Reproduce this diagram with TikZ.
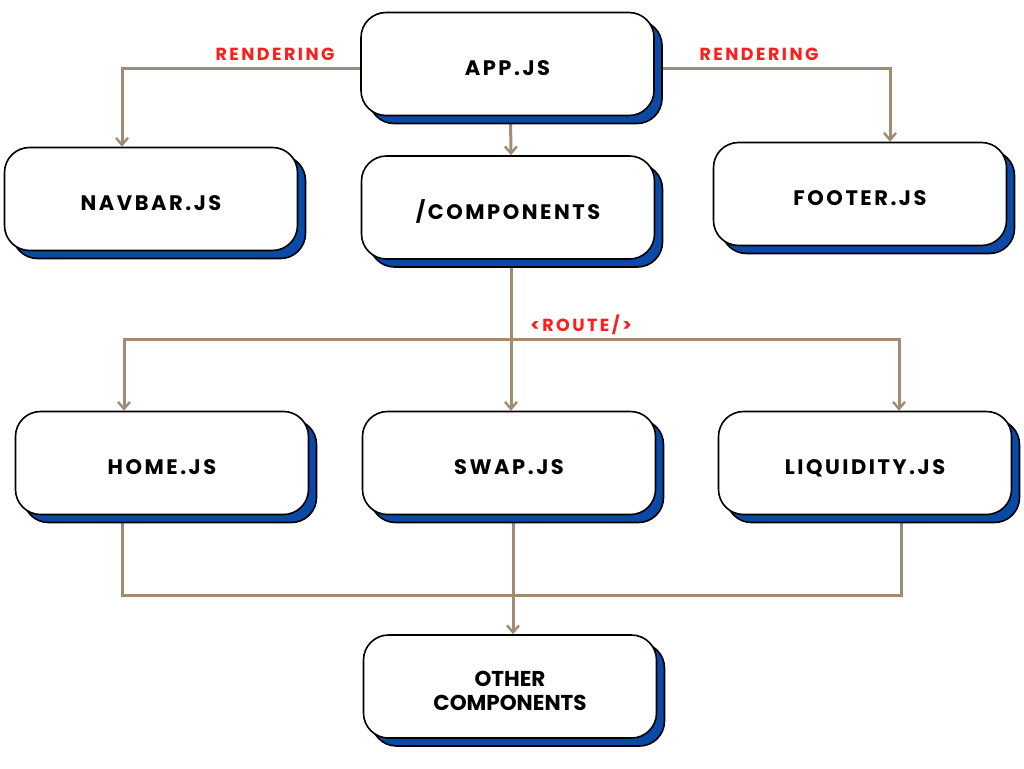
\documentclass[tikz,border=0pt]{standalone}
\usepackage{fontspec}
\setmainfont{Poppins}
\newfontfamily\boxfont[LetterSpace=12]{Poppins}
\newfontfamily\lblfont[LetterSpace=14]{Poppins}
\usetikzlibrary{arrows.meta,shadows,backgrounds}
\definecolor{conn}{HTML}{A08C74}
\definecolor{shblue}{HTML}{0B49A6}
\definecolor{lblred}{HTML}{FF1E1E}
\tikzset{
  box/.style={draw=black, line width=1.6pt, fill=white, rounded corners=25pt,
    minimum width=293pt, minimum height=103pt, inner sep=0pt,
    text height=23pt, text depth=0pt,
    font=\boxfont\bfseries\fontsize{21}{24}\selectfont, text=black,
    general shadow={shadow xshift=8pt, shadow yshift=-8pt, fill=shblue, draw=black, line width=1.6pt}},
  conn/.style={draw=conn, line width=3pt},
  arr/.style={conn, -{Straight Barb[length=7pt,width=12pt,line width=2.4pt]}},
  lbl/.style={text=lblred, font=\lblfont\bfseries\fontsize{17.5}{20}\selectfont, inner sep=0pt}
}
\begin{document}
\begin{tikzpicture}[x=1pt,y=-1pt]
\begin{scope}[on background layer]
\fill[white] (0,0) rectangle (1024,768);
\end{scope}
\useasboundingbox (0,0) rectangle (1024,768);
\node[box] (app) at (507.5,64) {APP.JS};
\node[box] (navbar) at (151,199) {NAVBAR.JS};
\node[box] (comp) at (508,207.5) {/COMPONENTS};
\node[box] (footer) at (860,194) {FOOTER.JS};
\node[box] (home) at (162,463) {HOME.JS};
\node[box] (swap) at (509,463) {SWAP.JS};
\node[box] (liq) at (865,463) {LIQUIDITY.JS};
\node[box, font=\bfseries\fontsize{21.5}{24}\selectfont, align=center, text height=47pt, text depth=0pt] (other) at (510,686.5) {OTHER\\COMPONENTS};
\node[lbl] (r1) at (275,54) {RENDERING};
\node[lbl] (r2) at (759,54) {RENDERING};
\node[lbl] (rt) at (581,325) {<ROUTE/>};
\coordinate (rj) at (511,339);
\coordinate (bj) at (513,595);
\begin{scope}[on background layer]
\draw[arr] ([yshift=-4pt]app.west) -| ([xshift=-29pt]navbar.north);
\draw[arr] ([yshift=-4pt]app.east) -| ([xshift=30pt]footer.north);
\draw[arr] ([xshift=3pt]app.south) -- ([xshift=3pt]comp.north);
\draw[arr] ([xshift=3pt]comp.south) -- ([xshift=2pt]swap.north);
\draw[arr] (rj) -| ([xshift=-38pt]home.north);
\draw[arr] (rj) -| ([xshift=34pt]liq.north);
\draw[conn] ([xshift=-40pt]home.south) |- (bj) -| ([xshift=36pt]liq.south);
\draw[arr] ([xshift=4pt]swap.south) -- ([xshift=3pt]other.north);
\end{scope}
\end{tikzpicture}
\end{document}
